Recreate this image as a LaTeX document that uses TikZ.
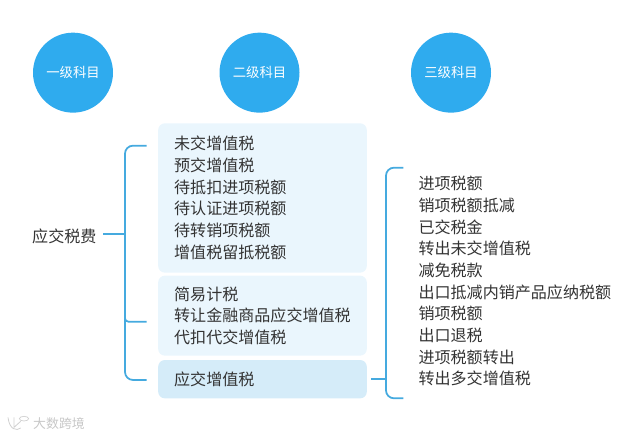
\documentclass[tikz,border=0pt]{standalone}
\usepackage{fontspec}
\setmainfont{Noto Sans CJK SC}
\usepackage{xcolor}
\definecolor{skyblue}{HTML}{2FABEE}
\definecolor{linkblue}{HTML}{45AADF}
\definecolor{paleblue}{HTML}{EAF6FD}
\definecolor{softblue}{HTML}{D5ECF9}
\definecolor{bodytext}{HTML}{333333}
\usetikzlibrary{calc}
\tikzset{
  levelhead/.style={circle, fill=skyblue, minimum size=2.4cm, inner sep=0pt, text=white, font=\fontsize{11.4}{13}\selectfont},
  panel/.style={rounded corners=0.2cm, fill=paleblue, minimum width=6.26cm, text width=5.3cm, inner xsep=0.48cm, inner ysep=0pt, align=left, text=bodytext, font=\fontsize{13.7}{18.5}\selectfont},
  itemlist/.style={inner sep=0pt, align=left, text=bodytext, font=\fontsize{13.7}{18.5}\selectfont},
  branch/.style={draw=linkblue, line width=1.5pt, rounded corners=0.24cm},
  twig/.style={draw=linkblue, line width=1.5pt}
}
\begin{document}
\begin{tikzpicture}
  \useasboundingbox (0,0) rectangle (19.2,13.14);

  \node[levelhead] (headone) at (2.19,10.96) {一级科目};
  \node[levelhead] (headtwo) at (7.785,10.96) {二级科目};
  \node[levelhead] (headthree) at (13.53,10.96) {三级科目};

  \node[panel, minimum height=4.48cm] (panelone) at (7.875,7.2) {未交增值税\\预交增值税\\待抵扣进项税额\\待认证进项税额\\待转销项税额\\增值税留抵税额};
  \node[panel, minimum height=2.4cm] (paneltwo) at (7.875,3.67) {简易计税\\转让金融商品应交增值税\\代扣代交增值税};
  \node[panel, minimum height=1.15cm, fill=softblue] (panelthree) at (7.875,1.764) {应交增值税};

  \node[itemlist] (rootlabel) at (1.93,6.04) {应交税费};
  \node[itemlist, anchor=west] (itemlist) at (12.55,4.70) {进项税额\\销项税额抵减\\已交税金\\转出未交增值税\\减免税款\\出口抵减内销产品应纳税额\\销项税额\\出口退税\\进项税额转出\\转出多交增值税};

  \coordinate (leftspine) at (3.75,6.12);
  \coordinate (lefttop) at (4.40,8.77);
  \coordinate (leftmid) at (4.40,3.49);
  \coordinate (leftbottom) at (4.40,1.74);
  \coordinate (rightspine) at (11.58,1.764);
  \coordinate (righttop) at (12.1,8.11);
  \coordinate (rightbottom) at (12.1,1.19);

  \draw[twig, shorten <=0.2cm] (rootlabel.east |- leftspine) -- (leftspine);
  \draw[branch] (lefttop) -| (leftspine) |- (leftbottom);
  \draw[branch, rounded corners=0.1cm] (leftmid) -| ($(leftspine |- leftmid)+(0,0.3)$);

  \draw[twig, shorten <=0.125cm] (panelthree.east) -- (rightspine);
  \draw[branch] (righttop) -| (rightspine) |- (rightbottom);

  \node[text=black!22, font=\fontsize{11}{13}\selectfont, inner sep=0pt] (brandlabel) at (1.77,0.42) {大数跨境};
  \draw[black!18, line width=0.7pt] (0.24,0.62) .. controls (0.28,0.25) and (0.5,0.2) .. (0.62,0.3);
  \draw[black!18, line width=0.7pt] (0.42,0.62) -- (0.42,0.32) -- (0.62,0.5);
  \draw[black!18, line width=0.6pt] (0.72,0.58) ellipse (0.14 and 0.07);
\end{tikzpicture}
\end{document}
